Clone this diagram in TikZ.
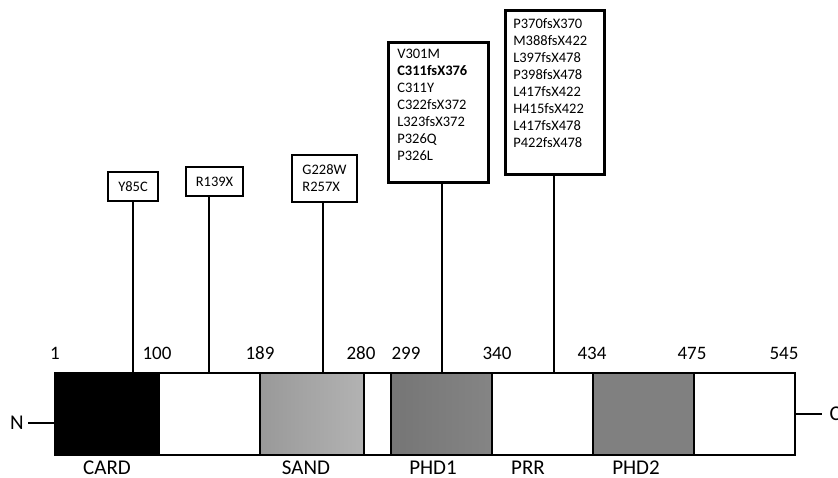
\documentclass[tikz,border=0pt]{standalone}
\usepackage{fontspec}
\setmainfont{Carlito}
\begin{document}
\begin{tikzpicture}[x=1pt,y=-1pt,
  seg/.style={draw=black, line width=2.8pt, rectangle, inner sep=0pt, outer sep=0pt, minimum height=82pt, anchor=north west},
  mbox/.style={draw=black, line width=2.6pt, fill=white, rectangle, inner sep=0pt, font=\fontsize{14.5}{17}\selectfont},
  num/.style={font=\fontsize{19}{22}\selectfont},
  lab/.style={font=\fontsize{21}{24}\selectfont, inner sep=0.5pt},
  stem/.style={line width=2.6pt},
  endline/.style={line width=2pt}
]
\useasboundingbox (0,0) rectangle (838,477);

% mutation boxes
\node[mbox, minimum width=50pt, minimum height=29pt] (b1) at (133,186.5) {Y85C};
\node[mbox, minimum width=57pt, minimum height=29pt] (b2) at (214.5,181.5) {R139X};
\node[mbox, minimum width=65pt, minimum height=47pt, align=left] (b3) at (324.5,178.5) {G228W\\R257X};
\node[mbox, anchor=north west, inner xsep=9pt, inner ysep=7pt] (b4) at (387,41)
  {\parbox[c][126pt][t]{82pt}{V301M\\\textbf{C311fsX376}\\C311Y\\C322fsX372\\L323fsX372\\P326Q\\P326L}};
\node[mbox, anchor=north west, inner xsep=8pt, inner ysep=8pt] (b5) at (504,9)
  {\parbox[c][148pt][t]{83pt}{P370fsX370\\M388fsX422\\L397fsX478\\P398fsX478\\L417fsX422\\H415fsX422\\L417fsX478\\P422fsX478}};

% stem targets on the bar top
\coordinate (t1) at (133,373);
\coordinate (t2) at (209,373);
\coordinate (t3) at (323,373);
\coordinate (t4) at (442,373);
\coordinate (t5) at (554,373);
\draw[stem] (t1 |- b1.south) -- (t1);
\draw[stem] (t2 |- b2.south) -- (t2);
\draw[stem] (t3 |- b3.south) -- (t3);
\draw[stem] (t4 |- b4.south) -- (t4);
\draw[stem] (t5 |- b5.south) -- (t5);

% protein bar
\node[seg, fill=black, minimum width=104pt] (card) at (55,373) {};
\node[seg, fill=white, minimum width=101pt] (w1) at (159,373) {};
\node[seg, left color=black!40, right color=black!30, minimum width=104pt] (sand) at (260,373) {};
\node[seg, fill=white, minimum width=27pt] (w2) at (364,373) {};
\node[seg, left color=black!54, right color=black!48, minimum width=101pt] (phd1) at (391,373) {};
\node[seg, fill=white, minimum width=101pt] (prr) at (492,373) {};
\node[seg, fill=black!50, minimum width=101pt] (phd2) at (593,373) {};
\node[seg, fill=white, minimum width=101pt] (w3) at (694,373) {};

% termini
\node[lab] (N) at (17,423) {N};
\draw[endline] (N.east) ++(4,0) -- (card.west |- N);
\node[lab, anchor=west] (C) at (829,414) {C};
\draw[endline] (w3.east |- C) -- ++(27,0);

% residue numbers
\node[num] (n1) at (55,353) {1};
\node[num] (n2) at (157,353) {100};
\node[num] (n3) at (260,353) {189};
\node[num] (n4) at (361,353) {280};
\node[num] (n5) at (406,353) {299};
\node[num] (n6) at (497,353) {340};
\node[num] (n7) at (592,353) {434};
\node[num] (n8) at (692,353) {475};
\node[num] (n9) at (784,353) {545};

% domain labels
\node[lab] (l1) at (107,467.5) {CARD};
\node[lab] (l2) at (306,467.5) {SAND};
\node[lab] (l3) at (433,467.5) {PHD1};
\node[lab] (l4) at (528,467.5) {PRR};
\node[lab] (l5) at (636,467.5) {PHD2};
\end{tikzpicture}
\end{document}
